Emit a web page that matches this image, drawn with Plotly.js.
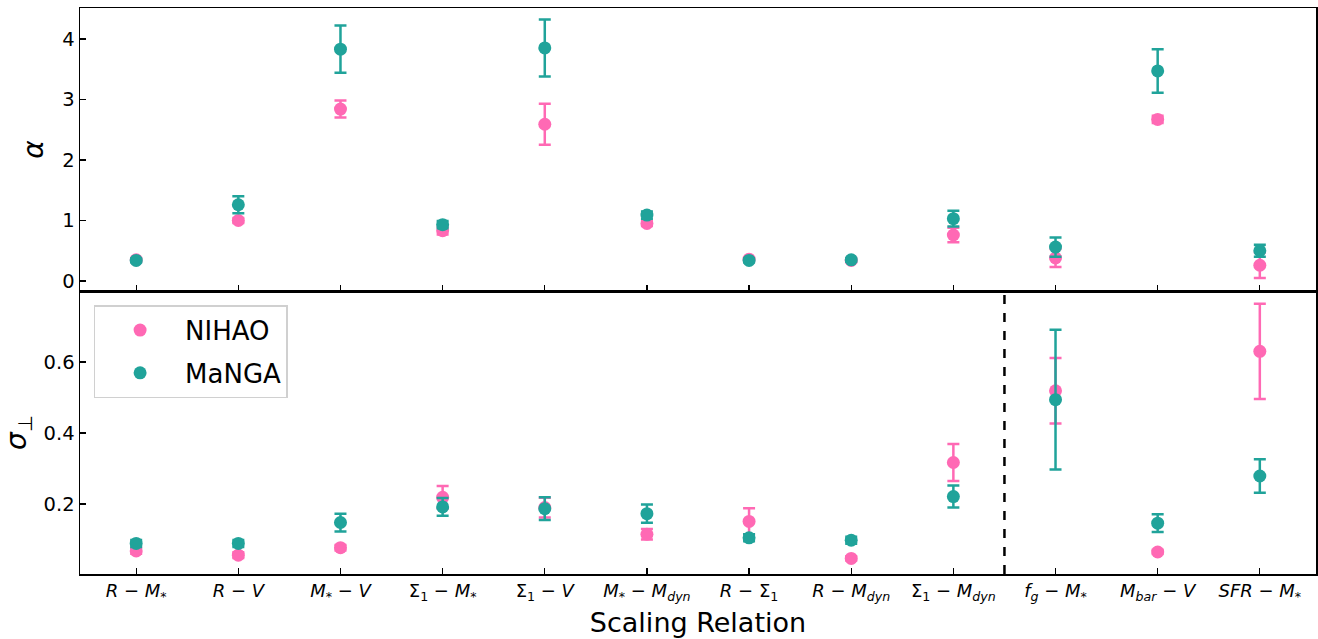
<!DOCTYPE html>
<html>
<head>
<meta charset="utf-8">
<script src="https://cdn.plot.ly/plotly-3.0.1.min.js"></script>
<style>html,body{margin:0;padding:0;background:#fff;}#chart{width:1318px;height:639px;}</style>
</head>
<body>
<div id="chart"></div>
<script>
// Category labels (math-style)
const relations = [
  "<i>R</i> − <i>M</i><sub>*</sub>",
  "<i>R</i> − <i>V</i>",
  "<i>M</i><sub>*</sub> − <i>V</i>",
  "Σ<sub>1</sub> − <i>M</i><sub>*</sub>",
  "Σ<sub>1</sub> − <i>V</i>",
  "<i>M</i><sub>*</sub> − <i>M</i><sub><i>dyn</i></sub>",
  "<i>R</i> − Σ<sub>1</sub>",
  "<i>R</i> − <i>M</i><sub><i>dyn</i></sub>",
  "Σ<sub>1</sub> − <i>M</i><sub><i>dyn</i></sub>",
  "<i>f</i><sub><i>g</i></sub> − <i>M</i><sub>*</sub>",
  "<i>M</i><sub><i>bar</i></sub> − <i>V</i>",
  "<i>SFR</i> − <i>M</i><sub>*</sub>"
];

// Slope alpha
const nihaoAlpha    = [0.35, 1.00, 2.84, 0.83, 2.59, 0.95, 0.36, 0.34, 0.76, 0.38, 2.67, 0.26];
const nihaoAlphaErr = [0.03, 0.04, 0.14, 0.06, 0.34, 0.04, 0.03, 0.03, 0.12, 0.15, 0.06, 0.21];
const mangaAlpha    = [0.34, 1.26, 3.83, 0.93, 3.85, 1.09, 0.34, 0.35, 1.03, 0.56, 3.47, 0.50];
const mangaAlphaErr = [0.03, 0.14, 0.39, 0.06, 0.47, 0.06, 0.03, 0.03, 0.13, 0.16, 0.36, 0.10];

// Perpendicular scatter sigma
const nihaoSigma    = [0.068, 0.056, 0.077, 0.219, 0.190, 0.115, 0.151, 0.047, 0.317, 0.519, 0.065, 0.630];
const nihaoSigmaErr = [0.008, 0.008, 0.008, 0.032, 0.028, 0.015, 0.037, 0.006, 0.052, 0.092, 0.006, 0.134];
const mangaSigma    = [0.089, 0.089, 0.148, 0.192, 0.187, 0.173, 0.105, 0.098, 0.221, 0.494, 0.146, 0.279];
const mangaSigmaErr = [0.010, 0.010, 0.025, 0.025, 0.032, 0.026, 0.010, 0.010, 0.031, 0.197, 0.025, 0.047];

const idx = relations.map((_, i) => i);
const pink = "#ff69b4";
const teal = "#20a39a";

function trace(y, err, color, name, xa, ya, show) {
  return {
    x: idx, y: y, type: "scatter", mode: "markers", name: name,
    xaxis: xa, yaxis: ya, showlegend: show, legendgroup: name,
    marker: {color: color, size: 13},
    error_y: {type: "data", array: err, visible: true, color: color, thickness: 2.5, width: 6}
  };
}

const data = [
  trace(nihaoAlpha, nihaoAlphaErr, pink, "NIHAO", "x2", "y2", false),
  trace(mangaAlpha, mangaAlphaErr, teal, "MaNGA", "x2", "y2", false),
  trace(nihaoSigma, nihaoSigmaErr, pink, "NIHAO", "x", "y", true),
  trace(mangaSigma, mangaSigmaErr, teal, "MaNGA", "x", "y", true)
];

const font = {family: "DejaVu Sans, sans-serif", color: "#000"};
const axCommon = {
  showline: true, linecolor: "#000", linewidth: 1.5, mirror: true,
  ticks: "inside", ticklen: 6, tickwidth: 1.3, tickcolor: "#000",
  showgrid: false, zeroline: false
};

const layout = {
  width: 1318, height: 639,
  margin: {l: 80, r: 2, t: 8, b: 65},
  paper_bgcolor: "#fff", plot_bgcolor: "#fff",
  font: Object.assign({size: 18}, font),
  xaxis: Object.assign({}, axCommon, {
    anchor: "y", domain: [0, 1], range: [-0.55, 11.55],
    tickvals: idx, ticktext: relations, tickfont: {size: 18},
    title: {text: "Scaling Relation", font: {size: 27}, standoff: 10}
  }),
  xaxis2: Object.assign({}, axCommon, {
    anchor: "y2", domain: [0, 1], range: [-0.55, 11.55],
    tickvals: idx, showticklabels: false
  }),
  yaxis: Object.assign({}, axCommon, {
    anchor: "x", domain: [0, 0.5], range: [0.003, 0.80],
    tickvals: [0.2, 0.4, 0.6], ticktext: ["0.2", "0.4", "0.6"], tickfont: {size: 19.5},
    title: {text: "<i>σ</i><sub>⊥</sub>", font: {size: 28}, standoff: 10}
  }),
  yaxis2: Object.assign({}, axCommon, {
    anchor: "x2", domain: [0.5, 1], range: [-0.165, 4.51],
    tickvals: [0, 1, 2, 3, 4], tickfont: {size: 19.5},
    title: {text: "<i>α</i>", font: {size: 28}, standoff: 10}
  }),
  shapes: [{
    type: "line", xref: "x", yref: "y domain", x0: 8.5, x1: 8.5, y0: 0, y1: 1,
    line: {color: "#000", width: 2.5, dash: "dash"}
  }],
  legend: {
    x: 0.011, y: 0.475, xanchor: "left", yanchor: "top",
    bgcolor: "rgba(255,255,255,0.8)", bordercolor: "#d0d0d0", borderwidth: 1.5,
    font: {size: 26, family: "DejaVu Sans, sans-serif"},
    itemwidth: 80, tracegroupgap: 6
  }
};

Plotly.newPlot("chart", data, layout, {displayModeBar: false, staticPlot: true});
</script>
</body>
</html>
